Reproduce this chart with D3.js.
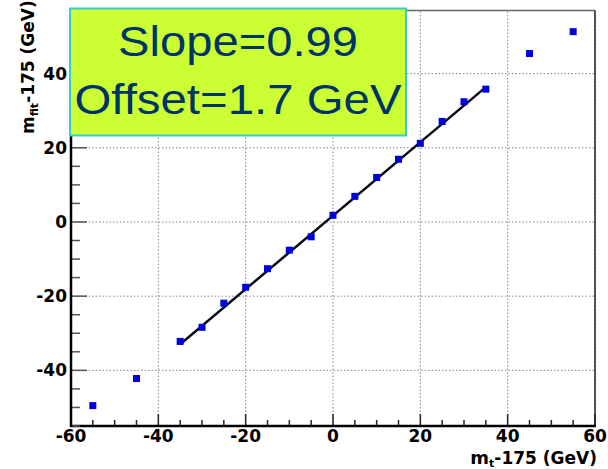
<!DOCTYPE html>
<html>
<head>
<meta charset="utf-8">
<script src="https://cdn.jsdelivr.net/npm/d3@7"></script>
<style>
  html, body { margin: 0; padding: 0; background: #fff; }
  svg { display: block; }
</style>
</head>
<body>
<svg id="chart" width="608" height="469"></svg>
<script>
// ---- data ----
const trueMass = [-55, -45, -35, -30, -25, -20, -15, -10, -5, 0, 5, 10, 15, 20, 25, 30, 35, 45, 55];
const fitMass  = [-49.5, -42.2, -32.2, -28.4, -21.9, -17.6, -12.6, -7.6, -4.0, 1.8, 6.9, 12.0, 16.9, 21.2, 27.1, 32.4, 35.8, 45.4, 51.3];
const fitRange = [-35, 35];
const fitSlope = 0.99;
const fitOffset = 1.7;
const xTickValues = [-60, -40, -20, 0, 20, 40, 60];
const yTickValues = [-40, -20, 0, 20, 40];
const xMinorTicks = d3.range(-60, 61, 5);
const yMinorTicks = d3.range(-55, 57, 5);
const boxLines = ["Slope=0.99", "Offset=1.7 GeV"];

// ---- layout ----
const svg = d3.select("#chart");
const x = d3.scaleLinear().domain([-60, 60]).range([71, 595]);
const y = d3.scaleLinear().domain([-55, 57]).range([426, 10.5]);

// grid (dotted)
const grid = svg.append("g").attr("stroke", "#888").attr("stroke-width", 1).attr("stroke-dasharray", "1.5,2");
grid.selectAll(".gx").data(xTickValues.filter(v => v > -60)).join("line")
  .attr("x1", d => x(d)).attr("x2", d => x(d)).attr("y1", y.range()[0]).attr("y2", y.range()[1]);
grid.selectAll(".gy").data(yTickValues).join("line")
  .attr("y1", d => y(d)).attr("y2", d => y(d)).attr("x1", x.range()[0]).attr("x2", x.range()[1]);

// frame top / right
svg.append("line").attr("x1", x.range()[0]).attr("x2", x.range()[1]).attr("y1", y.range()[1]).attr("y2", y.range()[1])
  .attr("stroke", "#666").attr("stroke-width", 1.5);
svg.append("line").attr("x1", x.range()[1]).attr("x2", x.range()[1]).attr("y1", y.range()[1]).attr("y2", y.range()[0])
  .attr("stroke", "#222").attr("stroke-width", 1.5);

// x axis
const xAxis = svg.append("g").attr("transform", `translate(0,${y.range()[0]})`);
xAxis.call(d3.axisBottom(x).tickValues(xMinorTicks).tickSize(0).tickFormat(""));
xAxis.select(".domain").remove();
xAxis.selectAll(".tick line").remove();
xAxis.selectAll(".mt").data(xMinorTicks).join("line")
  .attr("x1", d => x(d)).attr("x2", d => x(d)).attr("y1", 0)
  .attr("y2", d => (d % 20 === 0) ? -12 : -6)
  .attr("stroke", "#222").attr("stroke-width", 1.5);
xAxis.selectAll(".xl").data(xTickValues).join("text")
  .attr("x", d => x(d)).attr("y", 16).attr("text-anchor", "middle")
  .attr("font-family", "DejaVu Sans").attr("font-weight", "bold").attr("font-size", 17)
  .attr("fill", "#000").text(d => d);
svg.append("line").attr("x1", x.range()[0] - 1).attr("x2", x.range()[1] + 1)
  .attr("y1", y.range()[0]).attr("y2", y.range()[0]).attr("stroke", "#000").attr("stroke-width", 2.5);

// y axis
const yAxis = svg.append("g").attr("transform", `translate(${x.range()[0]},0)`);
yAxis.call(d3.axisLeft(y).tickValues(yMinorTicks).tickSize(0).tickFormat(""));
yAxis.select(".domain").remove();
yAxis.selectAll(".tick line").remove();
yAxis.selectAll(".mt").data(yMinorTicks).join("line")
  .attr("y1", d => y(d)).attr("y2", d => y(d)).attr("x1", 0)
  .attr("x2", d => (d % 20 === 0) ? 16 : 9)
  .attr("stroke", "#555").attr("stroke-width", 1.5);
yAxis.selectAll(".yl").data(yTickValues).join("text")
  .attr("x", -4).attr("y", d => y(d)).attr("dy", "0.36em").attr("text-anchor", "end")
  .attr("font-family", "DejaVu Sans").attr("font-weight", "bold").attr("font-size", 17)
  .attr("fill", "#000").text(d => d);
svg.append("line").attr("x1", x.range()[0]).attr("x2", x.range()[0])
  .attr("y1", y.range()[1]).attr("y2", y.range()[0] + 1).attr("stroke", "#000").attr("stroke-width", 2.5);

// fit line
const fitLine = d3.line().x(d => x(d)).y(d => y(fitSlope * d + fitOffset));
svg.append("path").datum(fitRange).attr("d", fitLine)
  .attr("fill", "none").attr("stroke", "#0a0a1a").attr("stroke-width", 2.5);

// points
svg.selectAll(".pt").data(trueMass).join("rect")
  .attr("x", d => x(d) - 3.5).attr("y", (d, i) => y(fitMass[i]) - 3.5)
  .attr("width", 7).attr("height", 7).attr("fill", "#0000d8");

// axis titles
const xt = svg.append("text").attr("x", 597).attr("y", 464).attr("text-anchor", "end")
  .attr("font-family", "DejaVu Sans").attr("font-weight", "bold").attr("font-size", 17).attr("fill", "#000");
xt.append("tspan").attr("font-size", 18).text("m");
xt.append("tspan").attr("font-size", 11).attr("dy", 3).text("t");
xt.append("tspan").attr("dy", -3).text("-175 (GeV)");

const yt = svg.append("text").attr("transform", "translate(34,134) rotate(-90)").attr("text-anchor", "start")
  .attr("font-family", "DejaVu Sans").attr("font-weight", "bold").attr("font-size", 17).attr("fill", "#000");
yt.append("tspan").text("m");
yt.append("tspan").attr("font-size", 11).attr("dy", 4).text("fit");
yt.append("tspan").attr("dy", -4).text("-175 (GeV)");

// text box
svg.append("rect").attr("x", 70).attr("y", 8.5).attr("width", 336).attr("height", 127)
  .attr("fill", "#ccff33").attr("stroke", "#33cccc").attr("stroke-width", 2);
const widths = [240, 327];
svg.selectAll(".bt").data(boxLines).join("text")
  .attr("x", 238).attr("y", (d, i) => 56 + i * 58).attr("text-anchor", "middle")
  .attr("font-family", "Liberation Sans").attr("font-size", 43).attr("fill", "#003366")
  .attr("textLength", (d, i) => widths[i]).attr("lengthAdjust", "spacingAndGlyphs")
  .text(d => d);
</script>
</body>
</html>
